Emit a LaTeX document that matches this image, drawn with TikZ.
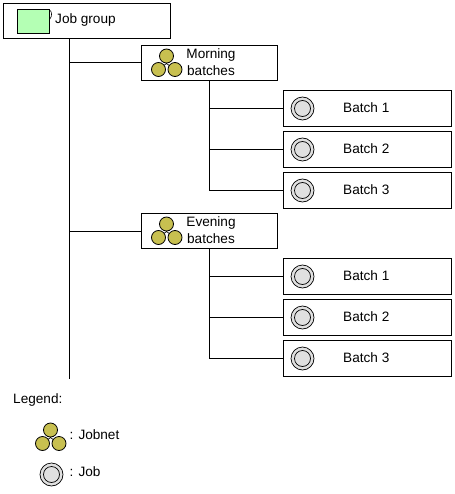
\documentclass[tikz,border=0pt]{standalone}
\usepackage{fontspec}
\setmainfont{Liberation Sans}
\definecolor{netc}{RGB}{200,192,80}
\definecolor{jobc}{RGB}{224,224,224}
\definecolor{grpc}{RGB}{180,255,180}
\tikzset{
  x=1pt,y=-1pt,
  line/.style={draw=black,line width=1pt},
  boxnode/.style={draw=black,line width=1pt,fill=white,minimum height=35pt,inner sep=0pt,outer sep=0pt,anchor=north west},
  bignode/.style={boxnode,minimum width=167pt},
  midnode/.style={boxnode,minimum width=136pt},
  jobnode/.style={boxnode,minimum width=168pt,minimum height=36pt},
  lbl/.style={font=\fontsize{13.6pt}{17pt}\selectfont,inner sep=0pt,align=center},
  pics/jobnet/.style={code={
    \draw[black,line width=.7pt] (0,-13) -- (0,-6) (0,-6) -- (-8,0) (0,-6) -- (8,0);
    \fill[netc,draw=black,line width=.8pt] (0,-13.5) circle (7);
    \fill[netc,draw=black,line width=.8pt] (-8,0) circle (7);
    \fill[netc,draw=black,line width=.8pt] (8.5,0) circle (7);
  }},
  pics/jobicon/.style={code={
    \fill[jobc,draw=black,line width=.7pt] (0,0) circle (11.5);
    \draw[black,line width=.7pt] (0,0) circle (8);
  }}
}
\begin{document}
\begin{tikzpicture}
\useasboundingbox (-0.5,-0.5) rectangle (453.5,493.5);
\node[bignode] (jg) at (3,3) {};
\node[midnode] (mb) at (141,45) {};
\node[midnode] (eb) at (141,213) {};
\node[jobnode] (m1) at (283,90) {};
\node[jobnode] (m2) at (283,131) {};
\node[jobnode] (m3) at (283,172) {};
\node[jobnode] (e1) at (283,258) {};
\node[jobnode] (e2) at (283,299) {};
\node[jobnode] (e3) at (283,340) {};
\coordinate (trunktop) at (69,38);
\coordinate (trunkend) at (69,378);
\coordinate (mtop) at (209,80);
\coordinate (mend) at (209,190);
\coordinate (etop) at (209,248);
\coordinate (eend) at (209,358);
\draw[line] (trunktop) -- (trunkend);
\draw[line] (mb.west) -- (mb.west -| trunktop);
\draw[line] (eb.west) -- (eb.west -| trunktop);
\draw[line] (mtop) -- (mend);
\draw[line] (etop) -- (eend);
\foreach \n in {m1,m2,m3}{\draw[line] (\n.west) -- (\n.west -| mtop);}
\foreach \n in {e1,e2,e3}{\draw[line] (\n.west) -- (\n.west -| etop);}
% job group icon
\draw[black,line width=.6pt] (48,9.5) .. controls (52,9.5) and (52,16) .. (49,19);
\fill[grpc,draw=black,line width=1pt] (16.5,9.5) rectangle (48.5,33);
\node[lbl,anchor=west] (jgt) at (54.5,19.5) {Job group};
\pic at (166,69) {jobnet};
\pic at (166,237) {jobnet};
\node[lbl] (mbt) at (210.5,61.5) {Morning\\batches};
\node[lbl] (ebt) at (210.5,229.5) {Evening\\batches};
\foreach \n/\t in {m1/Batch 1,m2/Batch 2,m3/Batch 3,e1/Batch 1,e2/Batch 2,e3/Batch 3}{
  \pic at ([xshift=19pt]\n.west) {jobicon};
  \node[lbl,anchor=west] at ([xshift=59.5pt,yshift=1pt]\n.west) {\t};
}
\node[lbl,anchor=west] (leg) at (12.5,399.5) {Legend:};
\pic at (50,443) {jobnet};
\node[lbl,anchor=west] (lnet) at (69,434.5) {: Jobnet};
\pic at (51,474) {jobicon};
\node[lbl,anchor=west] (ljob) at (69,471.5) {: Job};
\end{tikzpicture}
\end{document}
